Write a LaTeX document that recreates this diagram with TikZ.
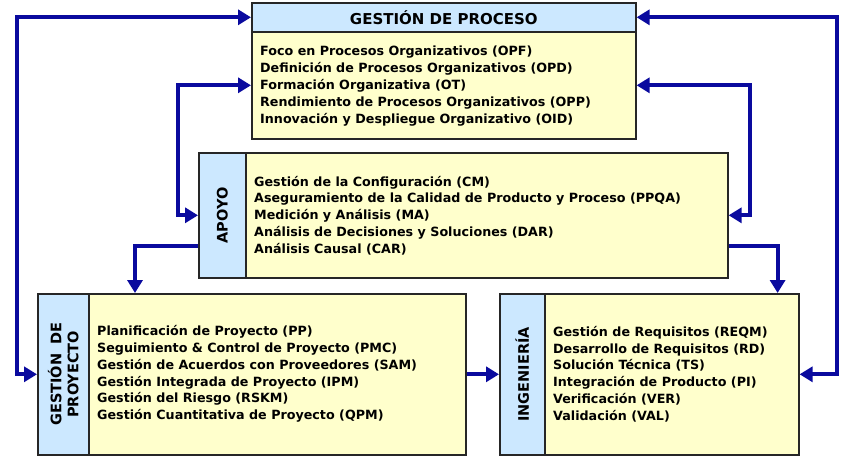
\documentclass[tikz,border=0pt]{standalone}
\usepackage{fontspec}
\setmainfont{DejaVu Sans}
\usetikzlibrary{arrows.meta,calc}
\definecolor{hdr}{HTML}{CCE8FF}
\definecolor{bodyy}{HTML}{FFFFCC}
\definecolor{arr}{HTML}{0A0A9E}
\begin{document}
\begin{tikzpicture}[x=1pt,y=-1pt,
  box/.style={draw=black!85, line width=1.6pt, rectangle, inner sep=0pt, anchor=north west},
  lst/.style={font=\bfseries\fontsize{12.7}{16.8}\selectfont, align=left, inner sep=0pt, anchor=west},
  vlab/.style={font=\bfseries\fontsize{14.5}{17}\selectfont, align=center, inner sep=0pt, rotate=90},
  conn/.style={draw=arr, line width=4pt, -{Triangle[length=13pt,width=15pt]}},
  conn2/.style={draw=arr, line width=4pt, {Triangle[length=13pt,width=15pt]}-{Triangle[length=13pt,width=15pt]}}]
\useasboundingbox (0,0) rectangle (856,464);
% Gestion de proceso
\node[box,fill=bodyy,minimum width=384pt,minimum height=107pt] (gdpb) at (251,31) {};
\node[box,fill=hdr,minimum width=384pt,minimum height=29pt,font=\bfseries\fontsize{15}{17}\selectfont] (gdph) at (251,2) {GESTIÓN DE PROCESO};
\node[lst] (gdpx) at (260,86) {Foco en Procesos Organizativos (OPF)\\Definición de Procesos Organizativos (OPD)\\Formación Organizativa (OT)\\Rendimiento de Procesos Organizativos (OPP)\\Innovación y Despliegue Organizativo (OID)};
% Apoyo
\node[box,fill=bodyy,minimum width=529pt,minimum height=125pt] (ap) at (198,152) {};
\node[box,fill=hdr,minimum width=47pt,minimum height=125pt] (aps) at (198,152) {};
\node[vlab] (apl) at (aps.center) {APOYO};
\node[lst] (apx) at (254,215.5) {Gestión de la Configuración (CM)\\Aseguramiento de la Calidad de Producto y Proceso (PPQA)\\Medición y Análisis (MA)\\Análisis de Decisiones y Soluciones (DAR)\\Análisis Causal (CAR)};
% Gestion de proyecto
\node[box,fill=bodyy,minimum width=428pt,minimum height=161pt] (gp) at (37,293) {};
\node[box,fill=hdr,minimum width=51pt,minimum height=161pt] (gps) at (37,293) {};
\node[vlab] (gpl) at (gps.center) {GESTIÓN\hspace{0.6em}DE\\PROYECTO};
\node[lst] (gpx) at (97,374) {Planificación de Proyecto (PP)\\Seguimiento \& Control de Proyecto (PMC)\\Gestión de Acuerdos con Proveedores (SAM)\\Gestión Integrada de Proyecto (IPM)\\Gestión del Riesgo (RSKM)\\Gestión Cuantitativa de Proyecto (QPM)};
% Ingenieria
\node[box,fill=bodyy,minimum width=299pt,minimum height=161pt] (ing) at (499,293) {};
\node[box,fill=hdr,minimum width=45pt,minimum height=161pt] (ings) at (499,293) {};
\node[vlab] (ingl) at (ings.center) {INGENIERÍA};
\node[lst] (ingx) at (553,374) {Gestión de Requisitos (REQM)\\Desarrollo de Requisitos (RD)\\Solución Técnica (TS)\\Integración de Producto (PI)\\Verificación (VER)\\Validación (VAL)};
% coordinates
\coordinate (a1) at ($(ap.south west)+(0,-33)$);
\coordinate (a2) at ($(ap.south east)+(0,-33)$);
\coordinate (g1) at ($(gp.north west)+(98,0)$);
\coordinate (i1) at ($(ing.north east)+(-22,0)$);
% connectors
\draw[conn2] (gp.west) -- ++(-20,0) |- (gdph.west);
\draw[conn2] (gdph.east) -- ++(200,0) |- (ing.east);
\draw[conn2] (ap.west) -- ++(-20,0) |- (gdpb.west);
\draw[conn2] (gdpb.east) -- ++(113,0) |- (ap.east);
\draw[conn] (a1) -| (g1);
\draw[conn] (a2) -| (i1);
\draw[conn] (gp.east) -- (ing.west);
\end{tikzpicture}
\end{document}
